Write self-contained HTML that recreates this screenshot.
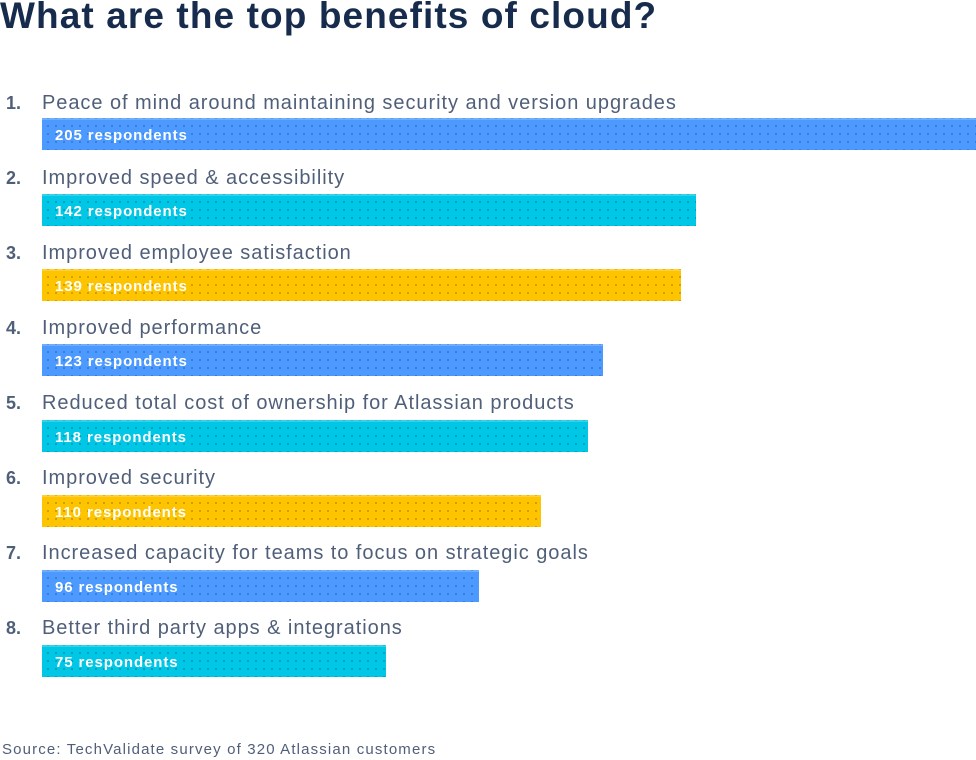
<!DOCTYPE html>
<html><head><style>
body{margin:0;width:976px;height:760px;background:#fff;font-family:"Liberation Sans",sans-serif;position:relative;overflow:hidden}
.t{position:absolute;left:0;top:-5px;font-size:37px;font-weight:bold;color:#172B4D;letter-spacing:1.1px}
.n{position:absolute;left:6px;font-size:18px;font-weight:bold;color:#505F79}
.l{position:absolute;left:42px;font-size:20px;color:#505F79;letter-spacing:0.95px}
.b{position:absolute;left:42px;height:32px;box-sizing:border-box;color:#fff;font-weight:bold;font-size:15px;line-height:31px;padding-left:13px;letter-spacing:0.9px;
background-image:radial-gradient(circle,rgba(0,0,0,0.22) 0.8px,transparent 1.2px);background-size:8px 8px;background-position:2px 2px;border-top:2px solid rgba(255,255,255,0.2)}
.B{background-color:#4C9AFF}.C{background-color:#00C7E6}.Y{background-color:#FFC400}
.s{position:absolute;left:2px;top:741px;font-size:15px;color:#505F79;letter-spacing:1.15px}
</style></head><body>
<div class="t">What are the top benefits of cloud?</div>

<div class="n" style="top:93px">1.</div><div class="l" style="top:92px">Peace of mind around maintaining security and version upgrades</div>
<div class="b B" style="top:118px;width:934px">205 respondents</div>

<div class="n" style="top:168px">2.</div><div class="l" style="top:167px">Improved speed &amp; accessibility</div>
<div class="b C" style="top:194px;width:654px">142 respondents</div>

<div class="n" style="top:243px">3.</div><div class="l" style="top:242px">Improved employee satisfaction</div>
<div class="b Y" style="top:269px;width:639px">139 respondents</div>

<div class="n" style="top:318px">4.</div><div class="l" style="top:317px">Improved performance</div>
<div class="b B" style="top:344px;width:561px">123 respondents</div>

<div class="n" style="top:393px">5.</div><div class="l" style="top:392px">Reduced total cost of ownership for Atlassian products</div>
<div class="b C" style="top:420px;width:546px">118 respondents</div>

<div class="n" style="top:468px">6.</div><div class="l" style="top:467px">Improved security</div>
<div class="b Y" style="top:495px;width:499px">110 respondents</div>

<div class="n" style="top:543px">7.</div><div class="l" style="top:542px">Increased capacity for teams to focus on strategic goals</div>
<div class="b B" style="top:570px;width:437px">96 respondents</div>

<div class="n" style="top:618px">8.</div><div class="l" style="top:617px">Better third party apps &amp; integrations</div>
<div class="b C" style="top:645px;width:344px">75 respondents</div>

<div class="s">Source: TechValidate survey of 320 Atlassian customers</div>
</body></html>
